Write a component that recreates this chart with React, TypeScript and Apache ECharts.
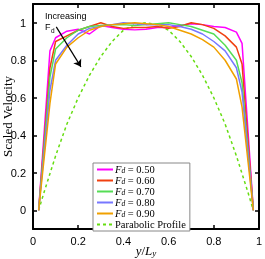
import React, { useEffect, useRef } from "react";
import * as echarts from "echarts";

const xGrid = [0.025, 0.075, 0.1, 0.15, 0.2, 0.25, 0.3, 0.35, 0.4, 0.45, 0.5, 0.55, 0.6, 0.65, 0.7, 0.75, 0.8, 0.85, 0.9, 0.925, 0.975];
const fd050 = [0, 0.85, 0.92, 0.955, 0.965, 0.94, 0.985, 0.975, 0.965, 0.962, 0.965, 0.975, 0.975, 0.985, 0.995, 0.99, 0.98, 0.975, 0.95, 0.89, 0];
const fd060 = [0, 0.76, 0.9, 0.93, 0.96, 0.98, 1.0, 0.98, 0.97, 0.975, 0.975, 0.98, 0.97, 0.98, 1.0, 0.99, 0.97, 0.93, 0.87, 0.78, 0];
const fd070 = [0, 0.71, 0.86, 0.92, 0.96, 0.98, 0.985, 0.99, 0.99, 0.985, 0.99, 0.995, 1.0, 0.99, 0.98, 0.96, 0.94, 0.88, 0.8, 0.68, 0];
const fd080 = [0, 0.64, 0.8, 0.88, 0.94, 0.97, 0.98, 0.99, 1.0, 0.995, 0.99, 0.99, 0.99, 0.98, 0.965, 0.94, 0.9, 0.85, 0.76, 0.63, 0];
const fd090 = [0, 0.57, 0.78, 0.87, 0.92, 0.96, 0.98, 0.99, 0.995, 1.0, 0.995, 0.99, 0.98, 0.96, 0.94, 0.91, 0.87, 0.8, 0.7, 0.55, 0];
const paraX = [0.025, 0.05, 0.1, 0.15, 0.2, 0.25, 0.3, 0.35, 0.4, 0.45, 0.5, 0.55, 0.6, 0.65, 0.7, 0.75, 0.8, 0.85, 0.9, 0.95, 0.975];
const paraY = [0, 0.1, 0.29, 0.46, 0.6, 0.72, 0.82, 0.9, 0.96, 0.99, 1.0, 0.99, 0.96, 0.9, 0.82, 0.72, 0.6, 0.46, 0.29, 0.1, 0];
const tickValues = [0, 0.2, 0.4, 0.6, 0.8, 1];

const seriesDefs = [
  { name: "0.50", data: fd050, color: "#ff00ff" },
  { name: "0.60", data: fd060, color: "#f04010" },
  { name: "0.70", data: fd070, color: "#55dd55" },
  { name: "0.80", data: fd080, color: "#7777ff" },
  { name: "0.90", data: fd090, color: "#f0a000" },
];

const fmt = (v: number) => (v === 0 || v === 1 ? String(v) : v.toFixed(1));

export default function App() {
  const ref = useRef<HTMLDivElement>(null);
  useEffect(() => {
    if (!ref.current) return;
    const chart = echarts.init(ref.current, null, { renderer: "svg" });
    const serif = "Liberation Serif";
    const sans = "Liberation Sans";
    const axisCommon = {
      type: "value" as const,
      axisLine: { show: true, onZero: false, lineStyle: { color: "#000", width: 2 } },
      axisTick: { show: true, inside: true, length: 4, customValues: tickValues, lineStyle: { color: "#000", width: 1.5 } },
      splitLine: { show: false },
    };
    const series: any[] = seriesDefs.map((s) => ({
      name: s.name,
      type: "line",
      data: xGrid.map((x, i) => [x, s.data[i]]),
      symbol: "none",
      lineStyle: { color: s.color, width: 1.5 },
      itemStyle: { color: s.color },
      z: 3,
    }));
    series.push({
      name: "Parabolic Profile",
      type: "line",
      data: paraX.map((x, i) => [x, paraY[i]]),
      symbol: "none",
      lineStyle: { color: "#66dd11", width: 1.5, type: [3, 3] },
      itemStyle: { color: "#66dd11" },
      z: 2,
      markLine: {
        silent: true,
        symbol: ["none", "arrow"],
        symbolSize: 7,
        label: { show: false },
        lineStyle: { color: "#000", width: 1.2, type: "solid" },
        data: [[{ coord: [0.103, 0.978] }, { coord: [0.212, 0.765] }]],
      },
    });
    chart.setOption({
      animation: false,
      grid: { left: 33, top: 4, width: 226, height: 225, containLabel: false, outerBoundsMode: "none" },
      xAxis: [
        {
          ...axisCommon,
          position: "bottom",
          min: 0,
          max: 1,
          axisLabel: { customValues: tickValues, formatter: fmt, color: "#000", fontFamily: sans, fontSize: 11, margin: 6 },
          name: "{i|y}/{i|L}{s|y}",
          nameLocation: "middle",
          nameGap: 14,
          nameMoveOverlap: false,
          nameTextStyle: {
            verticalAlign: "top",
            rich: {
              i: { fontFamily: serif, fontStyle: "italic", fontSize: 13, color: "#000", lineHeight: 14 },
              s: { fontFamily: serif, fontStyle: "italic", fontSize: 9, color: "#000", lineHeight: 9, verticalAlign: "bottom" },
            },
            fontFamily: serif,
            fontSize: 13,
            color: "#000",
          },
        },
        { ...axisCommon, position: "top", min: 0, max: 1, axisLabel: { show: false } },
      ],
      yAxis: [
        {
          ...axisCommon,
          position: "left",
          min: -0.1,
          max: 1.1,
          axisLabel: { customValues: tickValues, formatter: fmt, color: "#000", fontFamily: sans, fontSize: 11, margin: 7 },
          name: "Scaled Velocity",
          nameLocation: "middle",
          nameGap: 19,
          nameMoveOverlap: false,
          nameTextStyle: { fontFamily: serif, fontSize: 13, color: "#000" },
        },
        { ...axisCommon, position: "right", min: -0.1, max: 1.1, axisLabel: { show: false } },
      ],
      legend: {
        orient: "vertical",
        left: 93,
        top: 163,
        padding: [1, 4, 1, 3],
        itemGap: 0,
        itemWidth: 16,
        itemHeight: 8,
        backgroundColor: "#fff",
        borderColor: "#888",
        borderWidth: 1,
        itemStyle: { opacity: 0 },
        data: [...seriesDefs.map((s) => s.name), "Parabolic Profile"],
        formatter: (n: string) => (n === "Parabolic Profile" ? n : `{i|F}{s|d} = ${n}`),
        textStyle: {
          fontFamily: serif,
          fontSize: 10.5,
          lineHeight: 10.3,
          color: "#000",
          padding: [0, 0, 0, -3],
          rich: {
            i: { fontFamily: serif, fontStyle: "italic", fontSize: 10.5, color: "#000", lineHeight: 10.3 },
            s: { fontFamily: serif, fontStyle: "italic", fontSize: 7.5, color: "#000", lineHeight: 6, verticalAlign: "bottom" },
          },
        },
      },
      graphic: [
        { type: "text", left: 45, top: 11, style: { text: "Increasing", fontFamily: sans, fontSize: 9, fill: "#000" } },
        { type: "text", left: 45, top: 22, style: { text: "F", fontFamily: sans, fontSize: 9, fill: "#000" } },
        { type: "text", left: 51, top: 27, style: { text: "d", fontFamily: sans, fontSize: 6.5, fill: "#000" } },
      ],
      series,
    });
    return () => chart.dispose();
  }, []);
  return <div ref={ref} style={{ position: "fixed", left: 0, top: 0, width: 265, height: 259 }} />;
}
